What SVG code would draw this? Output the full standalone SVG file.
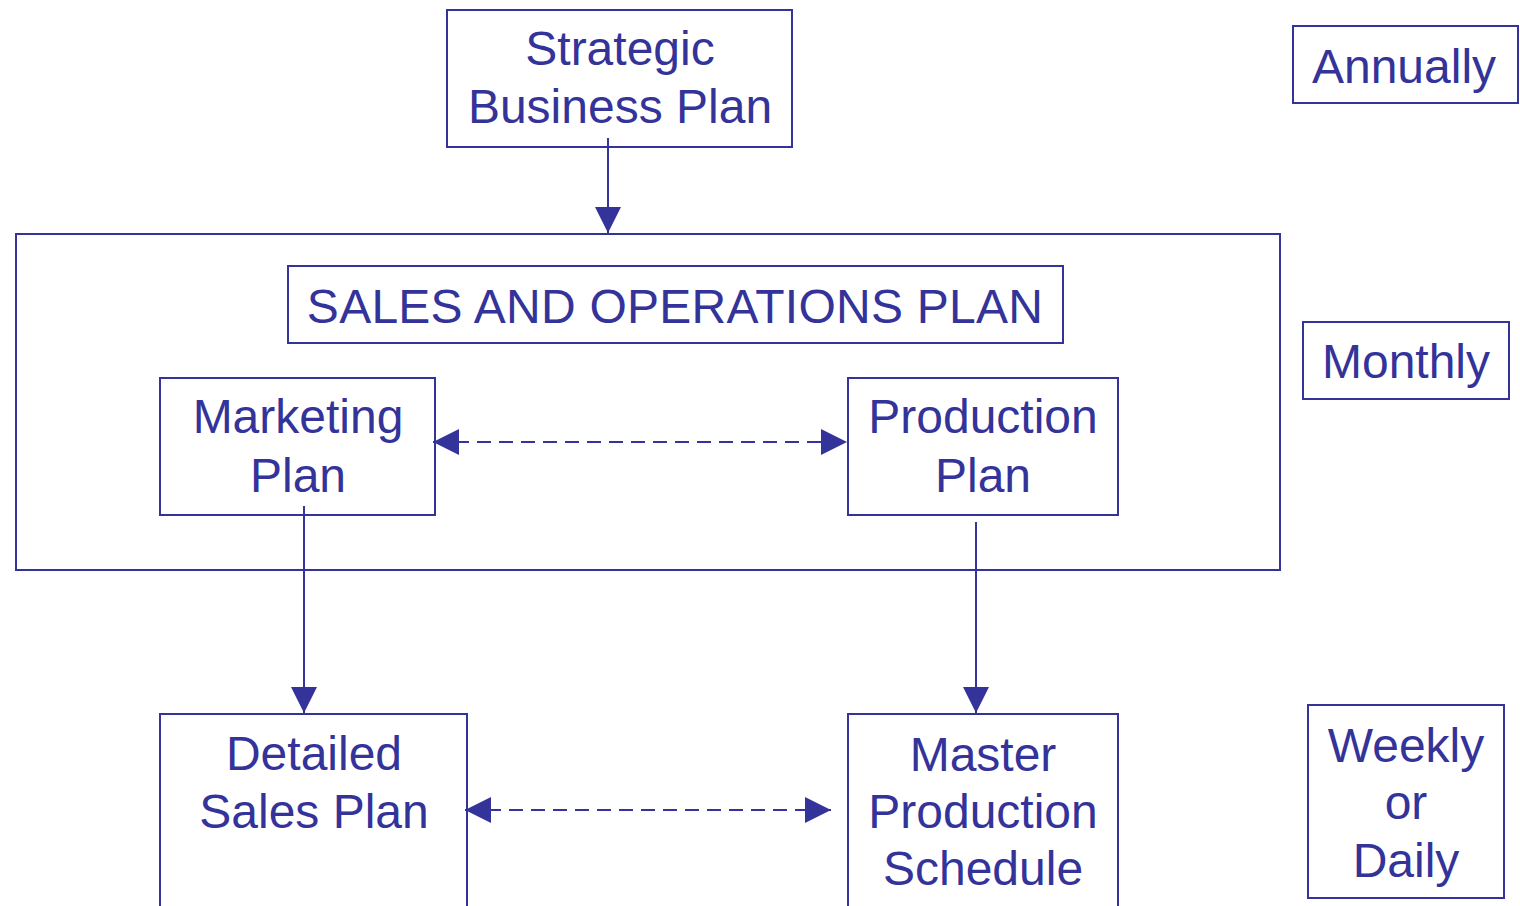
<svg xmlns="http://www.w3.org/2000/svg" width="1520" height="906" viewBox="0 0 1520 906">
<style>
.box{fill:none;stroke:#333399;stroke-width:2}
.t{font-family:"Liberation Sans",Arial,sans-serif;font-size:48px;fill:#333399;text-anchor:middle}
.c{fill:none;stroke:#333399;stroke-width:2}
.d{stroke-dasharray:14 8}
</style>
<defs>
<marker id="ah" viewBox="0 0 26 26" refX="26" refY="13" markerWidth="26" markerHeight="26" markerUnits="userSpaceOnUse" orient="auto-start-reverse">
<path d="M0,0 L26,13 L0,26 Z" fill="#333399"/>
</marker>
</defs>
<rect width="1520" height="906" fill="#ffffff"/>
<g id="outer"><rect class="box" x="16" y="234" width="1264" height="336"/></g>
<g id="strategic"><rect class="box" x="447" y="10" width="345" height="137"/><text class="t" x="620" y="65">Strategic</text><text class="t" x="620" y="123">Business Plan</text></g>
<g id="sop"><rect class="box" x="288" y="266" width="775" height="77"/><text class="t" x="675" y="323" style="letter-spacing:0.25px">SALES AND OPERATIONS PLAN</text></g>
<g id="marketing"><rect class="box" x="160" y="378" width="275" height="137"/><text class="t" x="298" y="433">Marketing</text><text class="t" x="298" y="492">Plan</text></g>
<g id="production"><rect class="box" x="848" y="378" width="270" height="137"/><text class="t" x="983" y="433">Production</text><text class="t" x="983" y="492">Plan</text></g>
<g id="detailed"><rect class="box" x="160" y="714" width="307" height="200"/><text class="t" x="314" y="770">Detailed</text><text class="t" x="314" y="828">Sales Plan</text></g>
<g id="master"><rect class="box" x="848" y="714" width="270" height="200"/><text class="t" x="983" y="771">Master</text><text class="t" x="983" y="828">Production</text><text class="t" x="983" y="885">Schedule</text></g>
<g id="annually"><rect class="box" x="1293" y="26" width="225" height="77"/><text class="t" x="1404" y="83">Annually</text></g>
<g id="monthly"><rect class="box" x="1303" y="322" width="206" height="77"/><text class="t" x="1406" y="378">Monthly</text></g>
<g id="weekly"><rect class="box" x="1308" y="705" width="196" height="193"/><text class="t" x="1406" y="762">Weekly</text><text class="t" x="1406" y="819">or</text><text class="t" x="1406" y="877">Daily</text></g>
<g id="connectors">
<line class="c" x1="608" y1="138" x2="608" y2="233" marker-end="url(#ah)"/>
<line class="c" x1="304" y1="506" x2="304" y2="713" marker-end="url(#ah)"/>
<line class="c" x1="976" y1="522" x2="976" y2="713" marker-end="url(#ah)"/>
<line class="c d" x1="433" y1="442" x2="847" y2="442" marker-start="url(#ah)" marker-end="url(#ah)"/>
<line class="c d" x1="465" y1="810" x2="831" y2="810" marker-start="url(#ah)" marker-end="url(#ah)"/>
</g>
</svg>
